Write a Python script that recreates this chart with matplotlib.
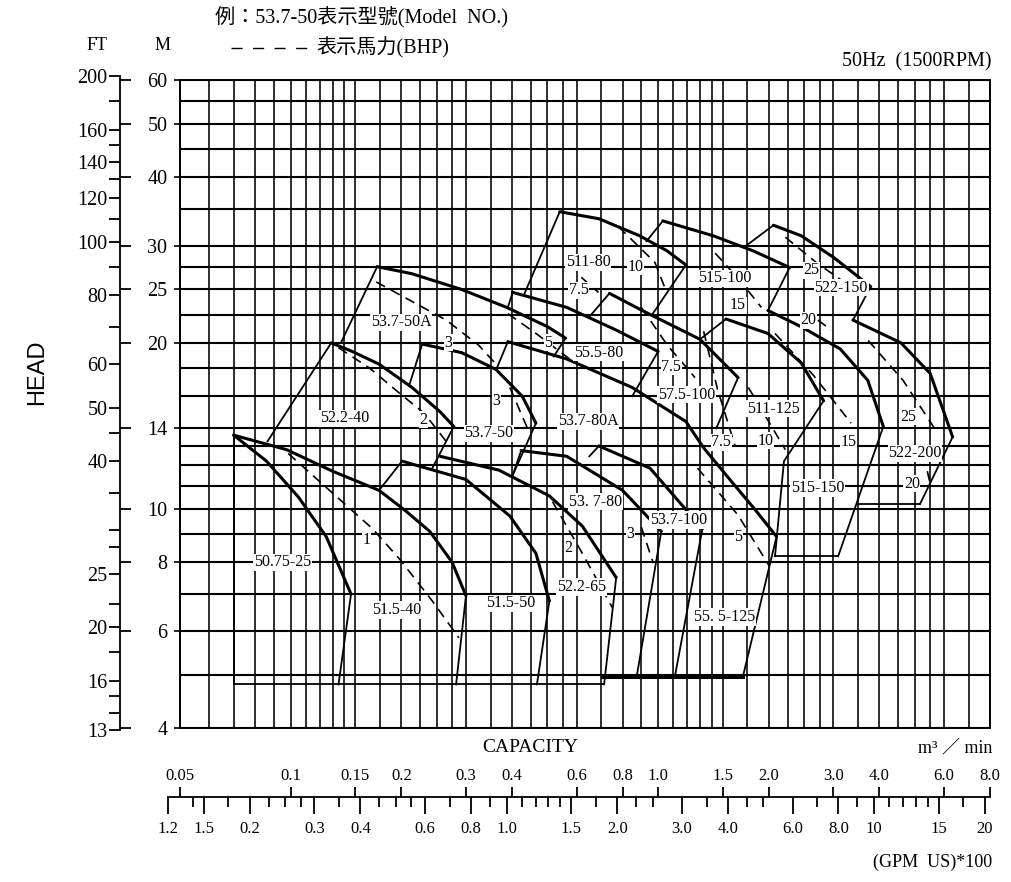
import matplotlib
matplotlib.use("Agg")
import matplotlib.pyplot as plt
from matplotlib.lines import Line2D
from matplotlib.ticker import FixedLocator, NullLocator, NullFormatter

SERIF = ["Liberation Serif", "Noto Sans CJK TC", "DejaVu Sans"]

# ---- grid / axis values --------------------------------------------------
grid_q = [0.05, 0.06, 0.07, 0.08, 0.09, 0.1, 0.11, 0.12, 0.13, 0.14, 0.15, 0.175,
          0.2, 0.225, 0.25, 0.275, 0.3, 0.35, 0.4, 0.45, 0.5, 0.55, 0.6, 0.7, 0.8,
          0.9, 1.0, 1.1, 1.2, 1.3, 1.4, 1.5, 1.75, 2.0, 2.25, 2.5, 2.75, 3.0, 3.5,
          4.0, 4.5, 5.0, 5.5, 6.0, 7.0, 8.0]
grid_h = [4, 5, 6, 7, 8, 9, 10, 11, 12, 13, 14, 16, 18, 20, 22.5, 25, 27.5, 30,
          35, 40, 45, 50, 55, 60]
m_ticks = [4, 6, 8, 10, 14, 20, 25, 30, 40, 50, 60]
ft_labelled = [13, 16, 20, 25, 40, 50, 60, 80, 100, 120, 140, 160, 200]
ft_plain = [14, 15, 18, 22, 28, 30, 35, 45, 70, 90, 110, 130, 150, 180]
cap_ticks = [0.05, 0.1, 0.15, 0.2, 0.3, 0.4, 0.6, 0.8, 1.0, 1.5, 2.0, 3.0, 4.0, 6.0, 8.0]
cap_labels = ["0.05", "0.1", "0.15", "0.2", "0.3", "0.4", "0.6", "0.8", "1.0", "1.5",
              "2.0", "3.0", "4.0", "6.0", "8.0"]
gpm_major = [0.12, 0.15, 0.2, 0.3, 0.4, 0.6, 0.8, 1.0, 1.5, 2.0, 3.0, 4.0, 6.0, 8.0,
             10, 15, 20]
gpm_labels = ["1.2", "1.5", "0.2", "0.3", "0.4", "0.6", "0.8", "1.0", "1.5", "2.0",
              "3.0", "4.0", "6.0", "8.0", "10", "15", "20"]
gpm_minor = [0.14, 0.175, 0.225, 0.25, 0.275, 0.35, 0.45, 0.5, 0.55, 0.7, 0.9, 1.1,
             1.2, 1.3, 1.4, 1.75, 2.25, 2.5, 3.5, 4.5, 5.0, 7.0, 9.0, 11, 12, 13, 14,
             17.5]
FT = 0.3048        # m per ft
GPM_SCALE = 0.387  # m3/min per 100 GPM, as the scale is drawn on the sheet

# ---- pump curves (capacity m3/min, head m) -------------------------------
# thick lines: H-Q curves
hq_50_75_25 = [(0.07, 13.6), (0.086, 12.2), (0.105, 10.5), (0.125, 8.9), (0.146, 7.0)]
hq_51_5_40 = [(0.07, 13.6), (0.0975, 12.8), (0.13, 11.7), (0.174, 10.8), (0.206, 9.9),
              (0.239, 9.1), (0.275, 8.0), (0.3, 6.95)]
hq_51_5_50 = [(0.201, 12.2), (0.3, 11.3), (0.395, 9.7), (0.465, 8.3), (0.506, 6.8)]
hq_52_2_65 = [(0.255, 12.45), (0.369, 11.75), (0.506, 10.55), (0.622, 9.3), (0.769, 7.5)]
hq_52_2_40 = [(0.129, 20.0), (0.147, 19.3), (0.174, 18.3), (0.214, 16.6), (0.255, 15.0),
              (0.278, 14.1)]
hq_53_7_50 = [(0.228, 19.9), (0.292, 19.2), (0.362, 17.9), (0.427, 16.0), (0.465, 14.3)]
hq_53_7_50a = [(0.172, 27.5), (0.214, 26.7), (0.292, 25.0), (0.387, 23.2), (0.5, 21.4),
               (0.56, 20.4)]
hq_55_5_80 = [(0.402, 24.7), (0.564, 23.2), (0.769, 21.1), (1.0, 19.3)]
hq_53_7_80a = [(0.39, 20.1), (0.564, 18.7), (0.85, 16.6), (1.19, 14.4), (1.33, 12.9),
               (1.55, 11.4), (1.85, 9.9), (2.1, 8.9)]
hq_511_80 = [(0.54, 34.6), (0.69, 33.6), (0.89, 31.3), (1.056, 29.4), (1.19, 27.7)]
hq_57_5_100 = [(0.737, 24.6), (0.905, 22.9), (1.3, 20.3), (1.65, 17.3)]
hq_515_100 = [(1.03, 33.3), (1.41, 31.3), (1.81, 29.4), (2.28, 27.4)]
hq_522_150 = [(2.06, 32.7), (2.45, 31.3), (3.0, 28.6), (3.79, 25.3)]
hq_511_125 = [(1.53, 22.1), (1.99, 20.8), (2.45, 18.4), (2.82, 15.7)]
hq_515_150 = [(1.99, 22.9), (2.45, 21.4), (3.13, 19.5), (3.72, 17.1), (4.1, 14.1)]
hq_522_200 = [(3.39, 22.0), (4.58, 20.0), (5.5, 17.6), (6.33, 13.5)]
hq_53_7_100 = [(0.69, 13.0), (0.95, 11.85), (1.32, 9.2)]
hq_53_7_80 = [(0.424, 12.75), (0.564, 12.45), (0.8, 10.8), (1.02, 9.1)]

# thin lines: operating range limits and base lines
edges = [
    [(0.07, 13.6), (0.07, 4.8)],
    [(0.146, 7.0), (0.135, 4.8)],
    [(0.3, 6.95), (0.282, 4.8)],
    [(0.174, 10.8), (0.201, 12.2)],
    [(0.506, 6.8), (0.468, 4.8)],
    [(0.769, 7.5), (0.713, 4.8)],
    [(0.0865, 13.25), (0.129, 20.0)],
    [(0.278, 14.1), (0.243, 11.85)],
    [(0.21, 16.7), (0.228, 19.9)],
    [(0.465, 14.3), (0.402, 11.5)],
    [(0.137, 20.0), (0.172, 27.5)],
    [(0.56, 20.4), (0.52, 18.9)],
    [(0.39, 23.2), (0.402, 24.7)],
    [(1.0, 19.3), (0.85, 16.0)],
    [(0.364, 18.0), (0.39, 20.1)],
    [(0.432, 24.5), (0.54, 34.6)],
    [(1.19, 27.7), (0.963, 22.5)],
    [(0.65, 22.3), (0.737, 24.6)],
    [(1.65, 17.3), (1.44, 14.0)],
    [(1.3, 20.3), (1.53, 22.1)],
    [(0.93, 30.6), (1.03, 33.3)],
    [(2.28, 27.4), (1.99, 22.9)],
    [(1.71, 29.8), (2.06, 32.7)],
    [(3.79, 25.3), (3.39, 22.0)],
    [(2.82, 15.7), (2.2, 12.2), (2.08, 8.2)],
    [(4.1, 14.1), (3.09, 8.2)],
    [(2.08, 8.2), (3.09, 8.2)],
    [(6.33, 13.5), (5.16, 10.2)],
    [(3.5, 10.2), (5.16, 10.2)],
    [(2.1, 8.9), (1.70, 4.95)],
    [(1.32, 9.2), (1.11, 4.95)],
    [(1.02, 9.1), (0.874, 4.95)],
    [(0.402, 11.5), (0.424, 12.75)],
    [(0.65, 12.45), (0.69, 13.0)],
    [(0.07, 4.8), (0.713, 4.8)],
]
base_thick = [(0.705, 4.95), (1.70, 4.95)]

# dashed lines: shaft power (BHP)
bhp_lines = [
    [(0.0985, 12.6), (0.137, 10.35), (0.167, 9.2), (0.198, 8.1), (0.243, 6.8), (0.287, 5.83)],
    [(0.135, 19.6), (0.164, 18.0), (0.198, 16.2), (0.231, 14.9), (0.265, 13.25)],
    [(0.171, 25.8), (0.265, 22.0), (0.325, 19.8), (0.362, 18.3)],
    [(0.395, 16.6), (0.445, 13.8)],
    [(0.516, 10.3), (0.622, 8.3), (0.752, 6.6)],
    [(0.39, 22.6), (0.47, 20.7), (0.58, 18.6)],
    [(0.618, 26.3), (0.688, 24.7)],
    [(0.78, 32.5), (0.98, 28.0), (1.05, 24.9)],
    [(0.9, 23.2), (1.06, 19.8), (1.26, 17.3)],
    [(1.43, 29.1), (1.65, 26.2), (1.91, 23.2)],
    [(2.22, 31.1), (2.69, 28.0), (3.23, 25.7)],
    [(2.72, 22.0), (2.96, 21.1)],
    [(1.33, 21.0), (1.45, 16.5), (1.62, 13.0)],
    [(1.76, 16.6), (2.22, 12.8)],
    [(2.08, 20.8), (2.64, 17.5), (3.35, 14.3)],
    [(3.73, 20.2), (4.64, 17.1), (5.77, 13.7)],
    [(5.4, 11.7), (5.5, 11.1)],
    [(1.28, 11.85), (1.65, 9.74), (2.0, 7.9)],
    [(0.9, 9.26), (0.97, 7.97)],
]

model_labels = [
    ("50.75-25", 0.095, 8.0), ("51.5-40", 0.194, 6.55), ("51.5-50", 0.396, 6.74),
    ("52.2-65", 0.618, 7.21), ("52.2-40", 0.14, 14.6), ("53.7-50", 0.346, 13.7),
    ("53.7-50A", 0.2, 21.8), ("53.7-80A", 0.646, 14.4), ("55.5-80", 0.688, 19.2),
    ("511-80", 0.645, 28.0), ("515-100", 1.52, 26.2), ("522-150", 3.15, 25.2),
    ("57.5-100", 1.194, 16.1), ("511-125", 2.06, 15.2), ("515-150", 2.72, 10.9),
    ("522-200", 5.0, 12.6), ("53. 7-80", 0.675, 10.3), ("53.7-100", 1.135, 9.54),
    ("55. 5-125", 1.52, 6.36),
]
bhp_labels = [
    ("1", 0.161, 8.77), ("2", 0.23, 14.5), ("3", 0.269, 20.0), ("3", 0.363, 15.7),
    ("2", 0.57, 8.49), ("3", 0.84, 9.0), ("5", 0.502, 20.0), ("7.5", 0.607, 24.9),
    ("10", 0.867, 27.5), ("7.5", 1.087, 18.1), ("15", 1.65, 23.4), ("25", 2.61, 27.1),
    ("20", 2.56, 22.0), ("7.5", 1.486, 13.2), ("10", 1.96, 13.3), ("5", 1.65, 8.9),
    ("15", 3.29, 13.2), ("25", 4.79, 14.7), ("20", 4.9, 11.1),
]

# ---- figure ---------------------------------------------------------------
W, H = 1011, 882
fig = plt.figure(figsize=(W / 100, H / 100), dpi=100)


def fx(px):
    return px / W


def fy(py):
    return 1 - py / H


ax = fig.add_axes([fx(180), fy(728), fx(990) - fx(180), fy(80) - fy(728)])
ax.set_xscale("log")
ax.set_yscale("log")
ax.set_xlim(0.05, 8.0)
ax.set_ylim(4, 60)
for q in grid_q:
    ax.axvline(q, color="black", lw=1.15, zorder=1)
for h in grid_h:
    ax.axhline(h, color="black", lw=1.5, zorder=1)
for s in ax.spines.values():
    s.set_linewidth(1.4)

ax.xaxis.set_major_locator(NullLocator())
ax.xaxis.set_minor_locator(NullLocator())
ax.yaxis.set_major_locator(FixedLocator(m_ticks))
ax.yaxis.set_minor_locator(NullLocator())
ax.set_yticklabels([str(v) for v in m_ticks], family=SERIF, fontsize=14.5)
ax.tick_params(axis="y", direction="out", length=4, width=1.2, pad=5)

for curve in [hq_50_75_25, hq_51_5_40, hq_51_5_50, hq_52_2_65, hq_52_2_40, hq_53_7_50,
              hq_53_7_50a, hq_55_5_80, hq_53_7_80a, hq_511_80, hq_57_5_100, hq_515_100,
              hq_522_150, hq_511_125, hq_515_150, hq_522_200, hq_53_7_100, hq_53_7_80]:
    qs, hs = zip(*curve)
    ax.plot(qs, hs, color="black", lw=2.2, solid_capstyle="round", zorder=3)
for seg in edges:
    qs, hs = zip(*seg)
    ax.plot(qs, hs, color="black", lw=1.3, zorder=3)
qs, hs = zip(*base_thick)
ax.plot(qs, hs, color="black", lw=2.2, zorder=3)
for seg in bhp_lines:
    qs, hs = zip(*seg)
    ax.plot(qs, hs, color="black", lw=1.2, dashes=(6, 4), zorder=3)

for txt, q, h in model_labels:
    ax.text(q, h, txt, family=SERIF, fontsize=11.5, ha="center", va="center", zorder=4,
            bbox=dict(facecolor="white", edgecolor="none", pad=0.5))
for txt, q, h in bhp_labels:
    ax.text(q, h, txt, family=SERIF, fontsize=11.5, ha="center", va="center", zorder=4,
            bbox=dict(facecolor="white", edgecolor="none", pad=0.3))

# ---- feet scale -------------------------------------------------------------
fig_inv = fig.transFigure.inverted()
y_lo = fig_inv.transform(ax.transData.transform((0.1, 13 * FT)))[1]
y_hi = fig_inv.transform(ax.transData.transform((0.1, 200 * FT)))[1]
ax_ft = fig.add_axes([fx(120), y_lo, 1e-4, y_hi - y_lo])
ax_ft.set_yscale("log")
ax_ft.set_ylim(13, 200)
ax_ft.set_xticks([])
for k in ["top", "right", "bottom"]:
    ax_ft.spines[k].set_visible(False)
ax_ft.spines["left"].set_linewidth(1.3)
ft_all = sorted(ft_labelled + ft_plain)
ax_ft.yaxis.set_major_locator(FixedLocator(ft_all))
ax_ft.set_yticklabels([str(v) if v in ft_labelled else "" for v in ft_all],
                      family=SERIF, fontsize=14.5)
ax_ft.yaxis.set_minor_locator(FixedLocator([m / FT for m in m_ticks]))
ax_ft.yaxis.set_minor_formatter(NullFormatter())
ax_ft.tick_params(axis="y", which="major", direction="out", length=8, width=1.3, pad=1)
ax_ft.tick_params(axis="y", which="minor", direction="in", length=8, width=1.3)

# ---- capacity scale ---------------------------------------------------------
q_left = 0.12 * GPM_SCALE
x_lo = fig_inv.transform(ax.transData.transform((q_left, 10)))[0]
x_hi = fig_inv.transform(ax.transData.transform((8.0, 10)))[0]
ax_s = fig.add_axes([x_lo, fy(797), x_hi - x_lo, 1e-4])
ax_g = ax_s.twiny()

ax_s.set_xscale("log")
ax_s.set_xlim(q_left, 8.0)
ax_s.set_yticks([])
for k in ["left", "right", "bottom"]:
    ax_s.spines[k].set_visible(False)
ax_s.spines["top"].set_linewidth(1.3)
ax_s.xaxis.set_major_locator(FixedLocator(cap_ticks))
ax_s.xaxis.set_minor_locator(NullLocator())
ax_s.set_xticklabels(cap_labels, family=SERIF, fontsize=12)
ax_s.xaxis.set_ticks_position("top")
ax_s.xaxis.set_label_position("top")
ax_s.tick_params(axis="x", which="both", top=True, labeltop=True, bottom=False,
                 labelbottom=False, direction="out", length=7, width=1.3, pad=2)

ax_g.set_xscale("log")
ax_g.set_xlim(q_left, 8.0)
for k in ["left", "right", "top", "bottom"]:
    ax_g.spines[k].set_visible(False)
ax_g.xaxis.set_major_locator(FixedLocator([g * GPM_SCALE for g in gpm_major]))
ax_g.xaxis.set_minor_locator(FixedLocator([g * GPM_SCALE for g in gpm_minor]))
ax_g.xaxis.set_minor_formatter(NullFormatter())
ax_g.set_xticklabels(gpm_labels, family=SERIF, fontsize=12)
ax_g.xaxis.set_ticks_position("bottom")
ax_g.tick_params(axis="x", which="both", bottom=True, labelbottom=True, top=False,
                 labeltop=False, direction="out", width=1.3)
ax_g.tick_params(axis="x", which="major", length=12, pad=5)
ax_g.tick_params(axis="x", which="minor", length=7)

# ---- texts ------------------------------------------------------------------
fig.text(fx(97), fy(45), "FT", family=SERIF, fontsize=13, ha="center", va="center")
fig.text(fx(163), fy(45), "M", family=SERIF, fontsize=13, ha="center", va="center")
fig.text(fx(37), fy(372), "HEAD", family=["Liberation Sans"], fontsize=17,
         rotation=90, ha="center", va="center")
fig.text(fx(215), fy(18), "例：53.7-50表示型號(Model  NO.)", family=SERIF, fontsize=14.5,
         ha="left", va="center")
fig.lines.append(Line2D([fx(231), fx(312)], [fy(48), fy(48)], transform=fig.transFigure,
                        color="black", lw=1.0, dashes=(8, 7.5)))
fig.text(fx(316), fy(48), "表示馬力(BHP)", family=SERIF, fontsize=14.5, ha="left",
         va="center")
fig.text(fx(992), fy(62), "50Hz  (1500RPM)", family=SERIF, fontsize=14.5, ha="right",
         va="center")
fig.text(fx(530), fy(748), "CAPACITY", family=SERIF, fontsize=14, ha="center",
         va="center")
fig.text(fx(992), fy(748), "m³ ／ min", family=SERIF, fontsize=13, ha="right",
         va="center")
fig.text(fx(992), fy(862), "(GPM  US)*100", family=SERIF, fontsize=13, ha="right",
         va="center")

fig.savefig("out.png", dpi=100, facecolor="white")
